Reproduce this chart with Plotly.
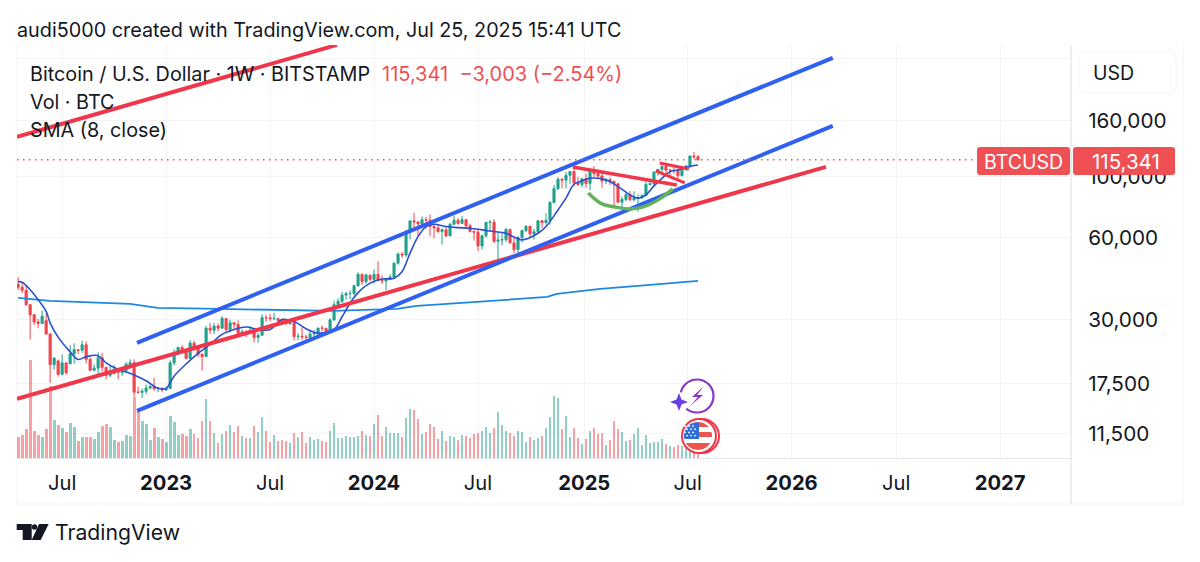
import numpy as np
import pandas as pd
import plotly.graph_objects as go

# weekly bars, monday open
first_week = "2022-04-18"
opens = [40400, 39450, 38470, 34060, 31300, 29450, 29050, 29800, 26600, 20550,
         21200, 18950, 20850, 20700, 22500, 23300, 23200, 24300, 21500, 19600,
         19950, 21800, 20100, 18800, 19050, 19450, 19250, 19570, 20620, 20900,
         16300, 16280, 16430, 16880, 17100, 16780, 16840, 16610, 16830, 20870,
         22700, 23750, 23330, 21660, 24650, 23560, 22430, 22000, 27950, 27480,
         28450, 27950, 30300, 27590, 29250, 28850, 26780, 27100, 26850, 27120,
         25840, 26340, 30530, 30470, 30290, 30290, 29790, 29350, 29050, 29300,
         26050, 26100, 25970, 25830, 26600, 26580, 27970, 27920, 27150, 29970,
         34060, 35050, 36900, 37400, 37450, 39970, 44000, 41370, 43700, 42150,
         43970, 41730, 41580, 42120, 43000, 48300, 52140, 51730, 63100, 68950,
         68380, 67230, 69650, 69360, 65740, 64950, 63100, 64000, 60800, 67050,
         69300, 67500, 69650, 66220, 63200, 62700, 55860, 60800, 68150, 68270,
         58100, 58700, 58900, 64200, 57300, 54150, 59980, 63580, 65900, 61800,
         62900, 69000, 68000, 69300, 80500, 90500, 97900, 97200, 101200, 104500,
         95200, 93700, 98300, 94550, 105500, 102650, 100650, 96500, 97500, 96300,
         94200, 80700, 82600, 86100, 82400, 83500, 83700, 85200, 93700, 94300,
         104100, 106400, 109000, 105700, 105700, 105500, 100900, 108400, 109200, 119100,
         118344]
highs = [42900, 40800, 40000, 34200, 31400, 30200, 32400, 31700, 26900, 21900,
         21500, 22400, 21000, 24200, 24600, 23450, 25200, 25000, 21800, 20600,
         22800, 22700, 20100, 20400, 20500, 19950, 19700, 21000, 21500, 21500,
         17100, 16800, 17400, 17400, 18400, 17050, 17000, 17100, 21300, 23400,
         23900, 24250, 23450, 25250, 25100, 23900, 22600, 28500, 29200, 29200,
         29100, 31000, 30500, 30000, 29250, 29850, 27700, 27500, 28450, 27400,
         26800, 31400, 31300, 31500, 31800, 30400, 30300, 30000, 30200, 29700,
         26800, 28150, 26450, 27450, 27500, 28050, 28600, 28000, 30400, 35200,
         35950, 37950, 37950, 38400, 40250, 44700, 44000, 44300, 43700, 45900,
         49050, 43600, 42250, 43900, 48550, 52850, 53000, 64000, 69200, 73800,
         68900, 71600, 71300, 72800, 66900, 67200, 64700, 65500, 67700, 71950,
         70600, 71900, 70200, 67300, 63400, 63850, 61400, 68350, 69400, 70050,
         62750, 62400, 65000, 64500, 59800, 60650, 64100, 66500, 66100, 64500,
         69500, 69500, 73600, 81500, 93500, 99850, 98900, 104000, 105000, 108300,
         99950, 99000, 102700, 106400, 109350, 106500, 102500, 98900, 99500, 96500,
         95000, 84700, 87500, 88800, 88500, 86100, 86500, 95800, 97400, 104300,
         105800, 112000, 110700, 106800, 110400, 108900, 108500, 110500, 119400, 123200,
         120200]
lows = [38500, 37600, 33700, 25400, 28700, 28000, 28900, 26500, 17600, 19700,
        18600, 18800, 18900, 20700, 20700, 22500, 22700, 20800, 19600, 19500,
        18600, 19400, 18200, 18500, 19000, 18200, 18700, 19200, 20050, 15700,
        16100, 15500, 16000, 16700, 16500, 16300, 16300, 16500, 16800, 20400,
        22300, 22500, 21450, 21500, 23100, 21900, 19550, 21900, 26600, 26550,
        27200, 27800, 27150, 26950, 27700, 25800, 26350, 25900, 26600, 24800,
        24750, 26250, 29500, 29700, 29900, 29500, 28900, 28600, 28700, 25200,
        25300, 25300, 25350, 24900, 26000, 25950, 27200, 26550, 26950, 29700,
        33400, 34550, 35550, 35700, 36800, 39600, 40200, 40550, 41450, 40750,
        41500, 40500, 38500, 41900, 42300, 47700, 50500, 50900, 59000, 64550,
        60750, 66400, 64500, 60650, 59650, 62400, 56500, 60200, 60750, 66650,
        66700, 67500, 65050, 62500, 58400, 53500, 54300, 59900, 63450, 57100,
        49050, 56100, 57800, 57100, 52550, 52500, 57500, 62700, 59800, 58900,
        62050, 65050, 66800, 66800, 79900, 89400, 90800, 90500, 94200, 92100,
        92500, 91500, 91200, 89300, 100000, 97800, 91200, 94100, 93400, 78250,
        80000, 76600, 81200, 81600, 81300, 74500, 83100, 85000, 92800, 93400,
        100800, 102100, 103100, 100400, 102700, 98200, 100400, 105100, 107500, 115800,
        114700]
closes = [39450, 38470, 34060, 31300, 29450, 29050, 30900, 26600, 20550, 21700,
          18950, 20850, 19200, 22500, 23300, 23200, 24300, 21500, 19600, 19950,
          21800, 20100, 18800, 19050, 19450, 19250, 19570, 20620, 20900, 16300,
          16280, 16430, 16880, 17100, 16780, 16840, 16610, 16830, 20870, 22700,
          23750, 23330, 21660, 24650, 23560, 22430, 21990, 27950, 27480, 28450,
          27950, 30300, 27590, 29250, 28850, 26780, 27100, 26850, 27120, 25840,
          26340, 30530, 30470, 30290, 30310, 29790, 29350, 29050, 29300, 26050,
          26100, 25970, 25830, 26600, 26700, 27970, 27920, 27150, 29970, 34060,
          35050, 36900, 37400, 37450, 39970, 44000, 41370, 43700, 42150, 43970,
          41730, 41580, 42120, 43000, 48300, 52140, 51730, 63100, 68950, 68380,
          67230, 69650, 69360, 65740, 64950, 63100, 64000, 60800, 67050, 69300,
          67500, 69650, 66220, 63200, 62700, 55860, 60800, 68150, 68270, 58100,
          58700, 58900, 64200, 57300, 54150, 59980, 63580, 65900, 61800, 62900,
          69000, 68000, 69300, 80500, 90500, 97900, 97200, 101200, 104500, 95200,
          93700, 98300, 94550, 105500, 102650, 100650, 96500, 97500, 96300, 94200,
          80700, 82600, 86100, 82400, 83500, 83700, 85200, 93700, 94300, 104100,
          106400, 109000, 105700, 105700, 105500, 100900, 108400, 109200, 119100, 118344,
          115341]
volumes = [20700, 23300, 28700, 98300, 26700, 22700, 21000, 29300, 72300, 38300,
           33300, 30000, 26000, 35000, 30700, 17300, 20700, 21300, 21300, 19300,
           26000, 31700, 34000, 30700, 18000, 15700, 17300, 23300, 22000, 60700,
           45700, 36700, 34000, 18000, 29700, 21300, 19000, 16000, 41700, 35700,
           23000, 24000, 22300, 29000, 24000, 19700, 37000, 59300, 37300, 24700,
           15000, 24000, 27300, 33300, 26000, 32300, 21700, 19700, 19700, 32300,
           26300, 40700, 27300, 15700, 23300, 16700, 17700, 17000, 15000, 25000,
           20700, 26000, 15300, 21300, 18000, 19000, 17300, 15700, 26700, 35000,
           19700, 19700, 21700, 21300, 21300, 22000, 26700, 22700, 22000, 34000,
           43300, 22000, 30700, 24700, 25300, 25300, 20700, 39700, 49000, 48300,
           39300, 23700, 26000, 34000, 31300, 19300, 27000, 17300, 22000, 20700,
           18000, 23000, 22000, 20300, 24300, 24700, 27300, 30700, 24700, 30000,
           45700, 33300, 27300, 25300, 22300, 27300, 25700, 15700, 20700, 18000,
           19700, 22000, 30000, 41000, 62000, 60300, 29000, 42300, 20700, 30300,
           19700, 14000, 19300, 27000, 29700, 23700, 24700, 13300, 18000, 37000,
           29000, 25700, 16700, 18300, 24000, 29700, 13300, 23000, 14700, 16000,
           16000, 19300, 13700, 12300, 11300, 12700, 12300, 12000, 16000, 16000,
           6000]

# sma 8, bar index -> price
sma_index = [0, 1, 3, 5, 7, 8, 10, 13, 15, 17, 20, 22, 24, 29, 32, 35, 37, 39, 42,
             45, 48, 51, 54, 57, 60, 63, 66, 69, 72, 75, 79, 81, 83, 85, 88, 91, 94,
             96, 98, 100, 102, 104, 107, 110, 113, 116, 119, 122, 126, 130, 132, 135,
             137, 139, 141, 143, 147, 150, 153, 155, 157, 159, 161, 163, 165, 167, 170]
sma_values = [41340, 41140, 38620, 35500, 32170, 29240, 25920, 22890, 21480, 21980,
              22180, 20870, 20070, 18860, 17950, 16840, 16840, 18660, 20670, 22590,
              24400, 26520, 27630, 28240, 27630, 27630, 30050, 29550, 27830, 26820,
              27700, 30760, 34490, 37710, 40840, 42250, 42550, 44970, 52540, 60400,
              65750, 67060, 65750, 65140, 64840, 63930, 63030, 62120, 58790, 62120,
              65750, 75630, 83500, 93880, 96500, 98720, 97410, 92070, 85810, 83500,
              85810, 92570, 98720, 104370, 105880, 108400, 110420]

# long moving average
long_ma_dates = ["2022-04-18", "2022-06-13", "2022-10-31", "2022-12-18", "2023-04-07",
                 "2023-10-21", "2024-02-10", "2024-03-16", "2024-06-29", "2024-10-30",
                 "2024-11-16", "2024-12-27", "2025-01-31", "2025-04-28", "2025-07-21"]
long_ma_values = [36060, 35160, 34290, 33160, 32870, 32320, 32870, 33720, 34870, 36360,
                  37300, 38250, 38900, 40240, 41610]

# drawn trend lines
red_top_dates, red_top_prices = ["2022-04-16", "2023-10-28"], [139900, 303300]
red_long_dates, red_long_prices = ["2022-04-16", "2026-03-02"], [15410, 108600]
blue_upper_dates, blue_upper_prices = ["2022-11-12", "2026-03-14"], [24690, 272100]
blue_lower_dates, blue_lower_prices = ["2022-11-12", "2026-03-14"], [13930, 153400]
red_fall_dates, red_fall_prices = ["2024-12-14", "2025-06-14"], [108600, 93360]
flag_top_dates, flag_top_prices = ["2025-05-15", "2025-07-05"], [112300, 106800]
flag_low_dates, flag_low_prices = ["2025-05-08", "2025-06-28"], [105100, 94900]
arc_dates = ["2025-01-10", "2025-02-03", "2025-02-26", "2025-03-24", "2025-04-16", "2025-05-15", "2025-06-07"]
arc_prices = [87290, 79560, 77550, 76240, 77550, 83000, 90250]

price_ticks = [270000, 160000, 100000, 60000, 30000, 17500, 11500]
price_labels = ["", "160,000", "100,000", "60,000", "30,000", "17,500", "11,500"]
time_ticks = ["2022-07-04", "2023-01-02", "2023-07-03", "2024-01-01", "2024-07-01",
              "2025-01-03", "2025-07-03", "2026-01-01", "2026-07-03", "2027-01-01"]
time_labels = ["Jul", "<b>2023</b>", "Jul", "<b>2024</b>", "Jul", "<b>2025</b>", "Jul", "<b>2026</b>", "Jul", "<b>2027</b>"]

FONT = "Inter"
INK = "#131722"
UP = "#22a08c"
DOWN = "#f0444c"
BLUE = "#2f60f0"
RED = "#f0364a"
GRID = "#f3f3f3"
EDGE = "#e4e4e4"

# plot area in pixels
L, R, T, B = 17, 1071, 45, 458


def px_x(x):
    return (x - L) / (R - L)


def px_y(y):
    return (B - y) / (B - T)


def rounded_box(x0, y0, x1, y1, r, fill, line="rgba(0,0,0,0)"):
    a, b, c, d = px_x(x0), px_x(x1), px_y(y0), px_y(y1)
    rx, ry = r / (R - L), r / (B - T)
    path = (f"M {a+rx} {c} L {b-rx} {c} Q {b} {c} {b} {c-ry} L {b} {d+ry} Q {b} {d} {b-rx} {d} "
            f"L {a+rx} {d} Q {a} {d} {a} {d+ry} L {a} {c-ry} Q {a} {c} {a+rx} {c} Z")
    return dict(type="path", xref="paper", yref="paper", path=path, fillcolor=fill,
                line=dict(color=line, width=1), layer="above")


def polygon(points, fill):
    pts = [f"{px_x(x)} {px_y(y)}" for x, y in points]
    return dict(type="path", xref="paper", yref="paper", path="M " + " L ".join(pts) + " Z",
                fillcolor=fill, line=dict(width=0), layer="above")


def circle(cx, cy, r, fill="rgba(0,0,0,0)", line=None, width=2):
    return dict(type="circle", xref="paper", yref="paper",
                x0=px_x(cx - r), x1=px_x(cx + r), y0=px_y(cy + r), y1=px_y(cy - r),
                fillcolor=fill, line=dict(color=line or "rgba(0,0,0,0)", width=width if line else 0),
                layer="above")


def band(cx, cy, r, y0, y1, x_max, fill):
    # piece of a disc between two rows, used for the flag
    ys = np.linspace(y0, y1, 12)
    half = np.sqrt(np.clip(r ** 2 - (ys - cy) ** 2, 0, None))
    left = [(cx - h, y) for h, y in zip(half, ys)]
    right = [(min(cx + h, x_max), y) for h, y in zip(half, ys)]
    return polygon(left + right[::-1], fill)


def vline(x, y0, y1, color=EDGE):
    return dict(type="line", xref="paper", yref="paper", x0=px_x(x), x1=px_x(x), y0=px_y(y0), y1=px_y(y1),
                line=dict(color=color, width=1), layer="below")


def label(x, y, text, size=20, color=INK, anchor="left"):
    return dict(xref="paper", yref="paper", x=px_x(x), y=px_y(y), text=text, showarrow=False,
                xanchor=anchor, yanchor="middle", font=dict(family=FONT, size=size, color=color))


dates = pd.date_range(first_week, periods=len(closes), freq="7D")
vol_colors = ["rgba(34,160,140,0.5)" if c >= o else "rgba(240,68,76,0.5)" for o, c in zip(opens, closes)]

fig = go.Figure()
fig.add_trace(go.Bar(x=dates, y=volumes, yaxis="y2", marker=dict(color=vol_colors, line=dict(width=0)),
                     width=2.8 * 7 * 86400000 / 4))
fig.add_trace(go.Candlestick(x=dates, open=opens, high=highs, low=lows, close=closes,
                             increasing=dict(line=dict(color=UP, width=1), fillcolor=UP),
                             decreasing=dict(line=dict(color=DOWN, width=1), fillcolor=DOWN),
                             whiskerwidth=0))


def add_line(x, y, color, width, shape="linear", dash="solid"):
    fig.add_trace(go.Scatter(x=x, y=y, mode="lines", line=dict(color=color, width=width, shape=shape, dash=dash)))


add_line(long_ma_dates, long_ma_values, "#1e88e5", 1.8)
add_line(dates[sma_index], sma_values, "#2850d0", 1.6, shape="spline")
add_line(red_top_dates, red_top_prices, RED, 4)
add_line(red_long_dates, red_long_prices, RED, 4)
add_line(blue_upper_dates, blue_upper_prices, BLUE, 4)
add_line(blue_lower_dates, blue_lower_prices, BLUE, 4)
add_line(red_fall_dates, red_fall_prices, RED, 3.5)
add_line(flag_top_dates, flag_top_prices, RED, 3)
add_line(flag_low_dates, flag_low_prices, RED, 3)
add_line(arc_dates, arc_prices, "#62b25c", 3.5, shape="spline")
add_line(["2022-04-16", "2027-05-05"], [closes[-1], closes[-1]], "#ef5350", 1.5, dash="1.5px,4.5px")

flag_stars = [(685 + 4 * c + 2 * (r % 2), 426 + 3.2 * r) for r in range(4) for c in range(3)]

shapes = [
    # frame outside the plot area
    vline(L, T, 504, GRID), vline(R, T, 504, "#dcdcdc"), vline(1183, 45, 504, GRID),
    dict(type="line", xref="paper", yref="paper", x0=0, x1=px_x(1183), y0=px_y(504), y1=px_y(504),
         line=dict(color=GRID, width=1), layer="below"),
    rounded_box(1079, 52, 1176, 93, 6, "white", "#f4f4f4"),
    rounded_box(977, 147, 1070, 175, 3, "#ef5054"),
    rounded_box(1073, 147, 1175, 175, 3, "#ef5054"),
    # lightning badge
    circle(697, 396, 16.5, "white", "#8a35c4", 2.2),
    circle(679, 402, 10, "white"),
    polygon([(679, 393), (681.5, 399.5), (688, 402), (681.5, 404.5), (679, 411), (676.5, 404.5), (670, 402), (676.5, 399.5)], "#6a3de8"),
    polygon([(704, 386), (692, 397), (698, 397), (690, 406), (703, 395), (697, 395)], "#8a35c4"),
    # flag badge
    circle(702, 436, 17, "white", "#f0364a", 2),
    circle(699, 436, 17, "white", "#f0364a", 2),
    circle(698, 436, 14.5, "white"),
    band(698, 436, 14, 422, 427, 720, "#ef5350"),
    band(698, 436, 14, 432, 437, 720, "#ef5350"),
    band(698, 436, 14, 443, 450, 720, "#ef5350"),
    band(698, 436, 14, 422, 439, 699, "#2f6fd8"),
] + [circle(sx, sy, 0.9, "white") for sx, sy in flag_stars] + [
    # tradingview mark
    polygon([(16.7, 524), (31.7, 524), (31.7, 540), (22.7, 540), (22.7, 530), (16.7, 530)], "#131722"),
    circle(34.5, 527, 2.7, "#131722"),
    polygon([(39, 524), (48.7, 524), (40.7, 540), (31.7, 540)], "#131722"),
]

annotations = [
    label(15, 30, "audi5000 created with TradingView.com, Jul 25, 2025 15:41 UTC", 19.8),
    label(28, 74, "Bitcoin / U.S. Dollar · 1W · BITSTAMP", 19.8),
    label(380, 74, "115,341  −3,003 (−2.54%)", 20, "#ef5054"),
    label(28, 102, "Vol · BTC", 19.8),
    label(28, 130, "SMA (8, close)", 19.8),
    label(1091, 73, "USD", 19.5),
    label(1023.5, 162, "BTCUSD", 19.5, "white", "center"),
    label(1126, 161, "115,341", 20.5, "white", "center"),
    label(53, 532, "TradingView", 21.2),
]

fig.update_layout(
    width=1200, height=562,
    margin=dict(l=L, r=1200 - R, t=T, b=562 - B),
    paper_bgcolor="white", plot_bgcolor="white",
    showlegend=False, bargap=0, boxgap=0.25,
    font=dict(family=FONT, size=20, color=INK),
    xaxis=dict(type="date", range=["2022-04-16", "2027-05-05"], rangeslider=dict(visible=False),
               tickmode="array", tickvals=time_ticks, ticktext=time_labels,
               ticks="outside", ticklen=7, tickcolor="rgba(0,0,0,0)",
               showgrid=True, gridcolor=GRID, showline=True, linecolor=EDGE, zeroline=False,
               tickfont=dict(family=FONT, size=20.2, color=INK)),
    yaxis=dict(type="log", range=[3.9717, 5.4817], side="right", tickmode="array",
               tickvals=price_ticks, ticktext=price_labels,
               ticks="outside", ticklen=12, tickcolor="rgba(0,0,0,0)",
               showgrid=True, gridcolor=GRID, zeroline=False, showline=False,
               tickfont=dict(family=FONT, size=20.7, color=INK)),
    yaxis2=dict(overlaying="y", side="left", range=[0, 413000], visible=False, fixedrange=True),
    shapes=shapes, annotations=annotations,
)

fig.write_html("out.html", config=dict(displayModeBar=False), post_script="document.body.style.margin='0';")
